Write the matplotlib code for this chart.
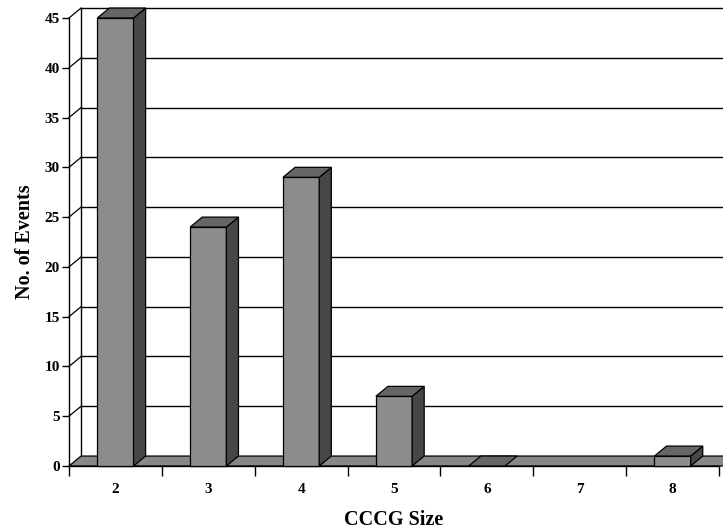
import matplotlib
matplotlib.use("Agg")
import matplotlib.pyplot as plt
from matplotlib.patches import Polygon
import numpy as np

categories = ["2", "3", "4", "5", "6", "7", "8"]
events = [45, 24, 29, 7, 0, np.nan, 1]
y_ticks = [0, 5, 10, 15, 20, 25, 30, 35, 40, 45]

plt.rcParams['font.family'] = ['Liberation Serif', 'DejaVu Serif']
plt.rcParams['font.weight'] = 'bold'

W, H = 723, 531
fig = plt.figure(figsize=(W / 100, H / 100), dpi=100)
left, right, top, bottom = 69, 719, 18, 466
ax = fig.add_axes([left / W, (H - bottom) / H, (right - left) / W, (bottom - top) / H])

n = len(categories)
xmin, xmax = 0.5, n + 0.5
ax.set_xlim(xmin, xmax)
ax.set_ylim(0, 45)

dx, dy = 0.13, 1.0  # depth offset in data units
bw = 0.39

# back wall gridlines and left wall diagonals
for v in y_ticks[1:]:
    ax.plot([xmin + dx, xmax + dx + 0.2], [v + dy, v + dy], color='black', lw=1.0,
            clip_on=False, zorder=1)
    ax.plot([xmin, xmin + dx], [v, v + dy], color='black', lw=0.9, clip_on=False, zorder=1)
ax.plot([xmin + dx, xmin + dx], [dy, 45 + dy], color='black', lw=1.0, clip_on=False, zorder=1)

# floor
floor = Polygon([(xmin, 0), (xmax + 0.05, 0), (xmax + 0.05 + dx, dy), (xmin + dx, dy)],
                closed=True, facecolor='#878787', edgecolor='black', lw=0.9,
                clip_on=False, zorder=2)
ax.add_patch(floor)

# bars
for i, v in enumerate(events):
    if np.isnan(v):
        continue
    c = i + 1
    x0, x1 = c - bw / 2, c + bw / 2
    if v > 0:
        front = Polygon([(x0, 0), (x1, 0), (x1, v), (x0, v)], closed=True,
                        facecolor='#8c8c8c', edgecolor='black', lw=0.9, clip_on=False, zorder=3)
        side = Polygon([(x1, 0), (x1 + dx, dy), (x1 + dx, v + dy), (x1, v)], closed=True,
                       facecolor='#474747', edgecolor='black', lw=0.9, clip_on=False, zorder=3)
        ax.add_patch(front)
        ax.add_patch(side)
    topf = Polygon([(x0, v), (x1, v), (x1 + dx, v + dy), (x0 + dx, v + dy)], closed=True,
                   facecolor='#666666', edgecolor='black', lw=0.9, clip_on=False, zorder=3)
    ax.add_patch(topf)

for s in ['top', 'right']:
    ax.spines[s].set_visible(False)
ax.spines['left'].set_linewidth(1.0)
ax.spines['bottom'].set_linewidth(1.0)
ax.spines['left'].set_zorder(4)

ax.set_yticks(y_ticks)
ax.set_yticklabels([str(t) for t in y_ticks], fontsize=11, fontweight='bold')
ax.tick_params(axis='y', length=5, width=1, pad=1.5)

ax.set_xticks(np.arange(xmin, xmax + 0.01, 1.0))
ax.set_xticklabels([])
ax.tick_params(axis='x', which='major', length=7, width=1)
ax.set_xticks(np.arange(1, n + 1), minor=True)
ax.set_xticklabels(categories, minor=True, fontsize=11, fontweight='bold')
ax.tick_params(axis='x', which='minor', length=0, pad=12)

ax.set_xlabel("CCCG Size", fontsize=14.5, fontweight='bold', labelpad=10)
ax.set_ylabel("No. of Events", fontsize=14.5, fontweight='bold', labelpad=7)
ax.set_facecolor('none')

fig.savefig("out.png", dpi=100)
